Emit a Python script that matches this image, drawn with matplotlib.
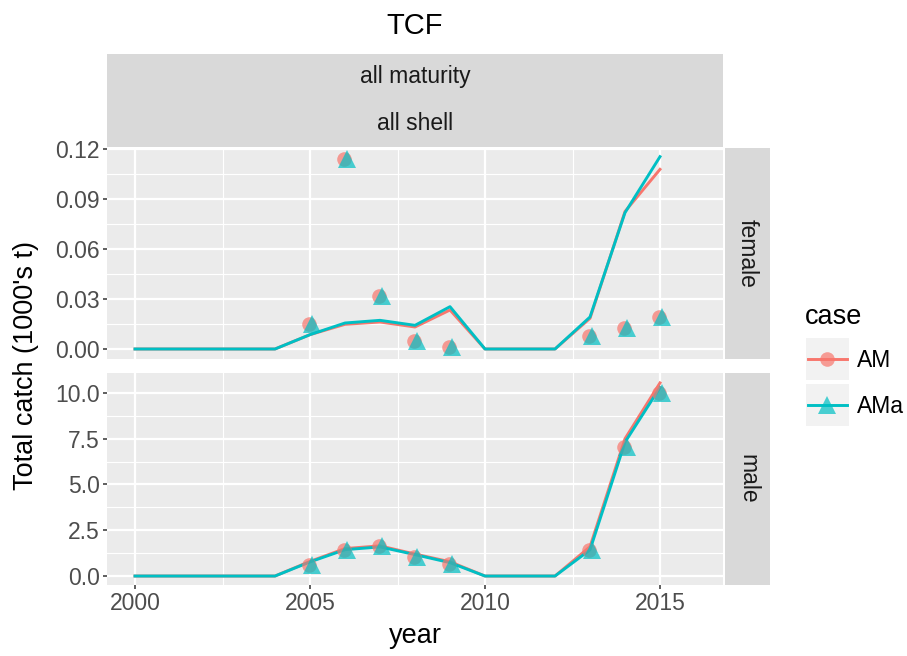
import matplotlib
matplotlib.use('Agg')
import matplotlib.pyplot as plt
from matplotlib.patches import Rectangle
from matplotlib.ticker import FixedLocator, FormatStrFormatter

plt.rcParams['font.family'] = ['Liberation Sans', 'DejaVu Sans']

# data
years = list(range(2000, 2016))
obs_years = [2005, 2006, 2007, 2008, 2009, 2013, 2014, 2015]

female_am = [0, 0, 0, 0, 0, 0.0086, 0.0148, 0.0162, 0.0132, 0.0234, 0, 0, 0, 0.0184, 0.0825, 0.1078]
female_ama = [0, 0, 0, 0, 0, 0.0086, 0.0156, 0.0172, 0.0142, 0.0254, 0, 0, 0, 0.0192, 0.0818, 0.1154]
female_obs = [0.0148, 0.1142, 0.0316, 0.0048, 0.0013, 0.0079, 0.0125, 0.0190]

male_am = [0, 0, 0, 0, 0, 0.80, 1.50, 1.65, 1.20, 0.78, 0, 0, 0, 1.60, 7.50, 10.55]
male_ama = [0, 0, 0, 0, 0, 0.77, 1.44, 1.59, 1.17, 0.73, 0, 0, 0, 1.43, 7.31, 10.30]
male_obs = [0.58, 1.42, 1.64, 1.06, 0.64, 1.40, 7.03, 9.98]

cases = ["AM", "AMa"]
colors = {"AM": "#F8766D", "AMa": "#00BFC4"}
markers = {"AM": "o", "AMa": "^"}
msize = {"AM": 10.5, "AMa": 12.5}
dodge = {"AM": -0.04, "AMa": 0.05}

W, H = 907, 656
fig = plt.figure(figsize=(W / 100, H / 100), dpi=100)


def px_axes(l, t, r, b):
    return fig.add_axes([l / W, 1 - b / H, (r - l) / W, (b - t) / H])


def style_panel(ax, ylim, ymajor, yminor, fmt):
    ax.set_facecolor("#EBEBEB")
    for s in ax.spines.values():
        s.set_visible(False)
    ax.set_xlim(1999.2, 2016.8)
    ax.set_ylim(*ylim)
    ax.xaxis.set_major_locator(FixedLocator([2000, 2005, 2010, 2015]))
    ax.xaxis.set_minor_locator(FixedLocator([2002.5, 2007.5, 2012.5]))
    ax.yaxis.set_major_locator(FixedLocator(ymajor))
    ax.yaxis.set_minor_locator(FixedLocator(yminor))
    ax.yaxis.set_major_formatter(FormatStrFormatter(fmt))
    ax.grid(True, which="major", color="white", linewidth=1.6)
    ax.grid(True, which="minor", color="white", linewidth=0.8)
    ax.set_axisbelow(True)
    ax.tick_params(which="major", length=3, width=1.1, color="#333333",
                   labelsize=16.5, labelcolor="#4D4D4D", pad=2)
    ax.tick_params(which="minor", length=0)


def strip(l, t, r, b, text, rot=0):
    sa = px_axes(l, t, r, b)
    sa.set_facecolor("#D9D9D9")
    sa.set_xticks([])
    sa.set_yticks([])
    for s in sa.spines.values():
        s.set_visible(False)
    sa.text(0.5, 0.5, text, rotation=rot, ha="center", va="center",
            fontsize=16.5, color="#1A1A1A", transform=sa.transAxes)
    return sa


ax1 = px_axes(107, 148, 723, 359)
ax2 = px_axes(107, 373, 723, 585)

style_panel(ax1, (-0.006, 0.1206), [0, 0.03, 0.06, 0.09, 0.12],
            [0.015, 0.045, 0.075, 0.105], "%.2f")
style_panel(ax2, (-0.49, 11.09), [0, 2.5, 5, 7.5, 10],
            [1.25, 3.75, 6.25, 8.75], "%.1f")
ax1.tick_params(axis="x", which="both", bottom=False, labelbottom=False)

panels = [
    (ax1, {"AM": female_am, "AMa": female_ama}, female_obs),
    (ax2, {"AM": male_am, "AMa": male_ama}, male_obs),
]
for ax, preds, obs in panels:
    for c in cases:
        ax.plot(years, preds[c], color=colors[c], linewidth=2.1, zorder=3)
    for c in cases:
        ax.plot([y + dodge[c] for y in obs_years], obs, linestyle="none",
                marker=markers[c], markersize=msize[c], color=colors[c],
                alpha=0.7, markeredgewidth=0, zorder=4)

# facet strips
top = px_axes(107, 54, 723, 147)
top.set_facecolor("#D9D9D9")
top.set_xticks([])
top.set_yticks([])
for s in top.spines.values():
    s.set_visible(False)
top.text(0.5, 1 - 23 / 93, "all maturity", ha="center", va="center",
         fontsize=16.5, color="#1A1A1A", transform=top.transAxes)
top.text(0.5, 1 - 70 / 93, "all shell", ha="center", va="center",
         fontsize=16.5, color="#1A1A1A", transform=top.transAxes)

strip(725, 148, 770, 359, "female", rot=-90)
strip(725, 373, 770, 585, "male", rot=-90)

# titles
fig.text(415 / W, 1 - 26 / H, "TCF", ha="center", va="center", fontsize=21)
fig.text(415 / W, 1 - 636 / H, "year", ha="center", va="center", fontsize=19.5)
fig.text(26 / W, 1 - 365 / H, "Total catch (1000's t)", rotation=90,
         ha="center", va="center", fontsize=19.5)

# legend drawn by hand
lg = px_axes(790, 290, 907, 440)
lg.set_xlim(790, 907)
lg.set_ylim(440, 290)
lg.axis("off")
lg.text(805, 317, "case", ha="left", va="center", fontsize=19.5)
for i, c in enumerate(cases):
    t0 = 338 + i * 46
    lg.add_patch(Rectangle((806, t0), 43, 42, facecolor="#F2F2F2", edgecolor="none"))
    yc = t0 + 21
    lg.plot([808, 847], [yc, yc], color=colors[c], linewidth=2.1)
    lg.plot([827.5], [yc], marker=markers[c], markersize=msize[c], color=colors[c],
            alpha=0.7, markeredgewidth=0)
    lg.text(857, yc + 1, c, ha="left", va="center", fontsize=16.5)

fig.savefig("out.png", dpi=100)
